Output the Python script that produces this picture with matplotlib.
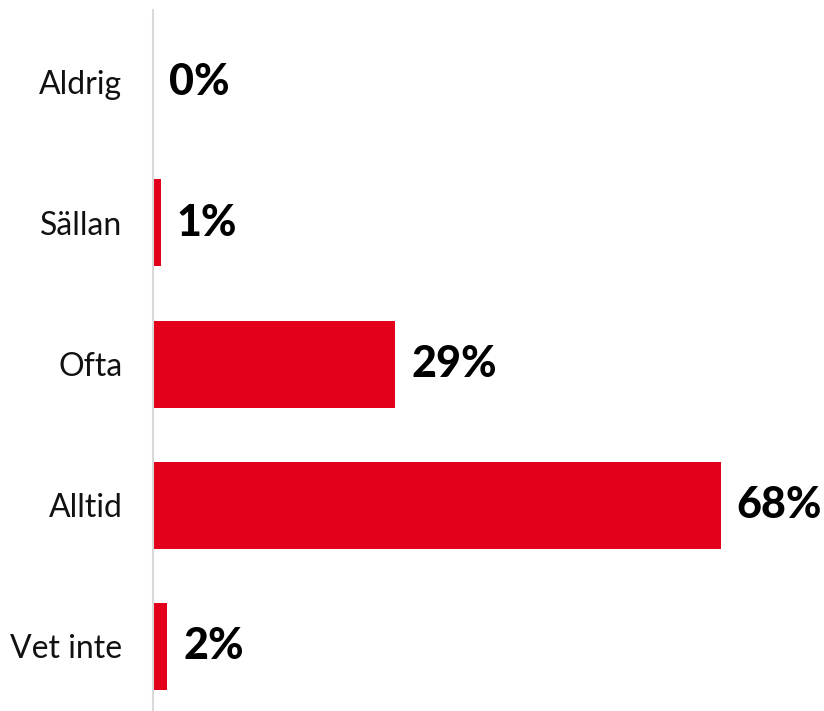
import matplotlib.pyplot as plt

kategorier = ["Aldrig", "Sällan", "Ofta", "Alltid", "Vet inte"]
andelar = [0, 0.9, 29, 68, 1.7]
etiketter = ["0%", "1%", "29%", "68%", "2%"]

fig = plt.figure(figsize=(8.24, 7.11), dpi=100)
ax = fig.add_axes([153 / 824, 0, 671 / 824, 701 / 711])

pos = range(len(kategorier))
ax.barh(pos, andelar, height=0.617, color="#E2001A")

for p, v, t in zip(pos, andelar, etiketter):
    ax.annotate(t, (v, p), xytext=(16, 0), textcoords="offset pixels",
                va="center", ha="left", fontsize=31, fontfamily="Lato",
                fontweight="black", color="black")

ax.set_xlim(0, 80.4)
ax.set_ylim(4.46, -0.51)
ax.set_yticks(list(pos))
ax.set_yticklabels(kategorier, fontsize=23, fontfamily="Lato", color="#111111")
ax.tick_params(axis="y", length=0, pad=22)
ax.set_xticks([])
for s in ["top", "right", "bottom"]:
    ax.spines[s].set_visible(False)
ax.spines["left"].set_color("#d9d9d9")
ax.spines["left"].set_linewidth(1.5)

fig.savefig("out.png", dpi=100)
